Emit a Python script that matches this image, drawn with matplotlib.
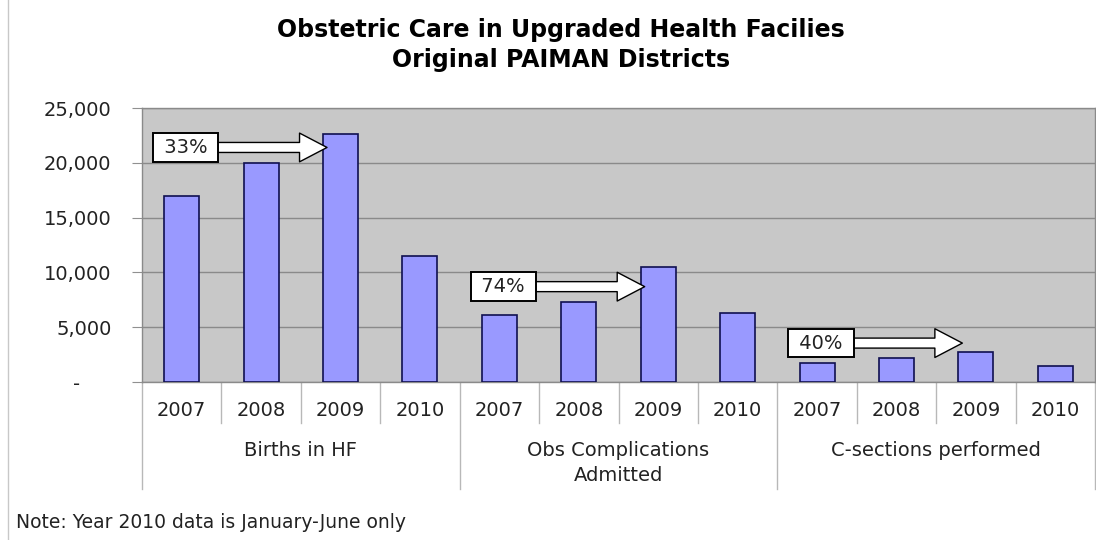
import numpy as np
import matplotlib.pyplot as plt
from matplotlib.lines import Line2D
from matplotlib.ticker import FuncFormatter

# Données
groups = ['Births in HF', 'Obs Complications\nAdmitted', 'C-sections performed']
years = ['2007', '2008', '2009', '2010']
births = [17000, 20000, 22600, 11500]
complications = [6100, 7300, 10500, 6300]
csections = [1700, 2150, 2780, 1450]

# Annotations : texte, barre de départ, barre d'arrivée, hauteur
arrow_labels = ['33%', '74%', '40%']
arrow_start = [0, 4, 8]
arrow_end = [2, 6, 10]
arrow_y = [21400, 8700, 3550]

values = births + complications + csections
labels = years * len(groups)
x = np.arange(len(values))

W, H = 1096, 540
fig = plt.figure(figsize=(W / 100, H / 100), dpi=100)
ax = fig.add_axes([142 / W, 1 - 382 / H, 953 / W, 274 / H])

font = 'DejaVu Sans'
fs = 14
ax.set_facecolor('#c8c8c8')
ax.bar(x, values, width=0.44, color='#9999ff', edgecolor='#101050', linewidth=1.2, zorder=3)

ax.set_xlim(-0.5, len(values) - 0.5)
ax.set_ylim(0, 25000)
ax.set_yticks(np.arange(0, 25001, 5000))
ax.yaxis.set_major_formatter(FuncFormatter(lambda v, p: '-     ' if v == 0 else f'{v:,.0f}'))
ax.grid(axis='y', color='#8a8a8a', linewidth=1, zorder=1)
ax.tick_params(axis='y', length=7, color='#909090', pad=15, labelsize=fs, labelcolor='#222222')
ax.set_xticks(x)
ax.set_xticklabels(labels, fontsize=fs, color='#222222')
ax.tick_params(axis='x', length=0, pad=14)
for lab in ax.get_xticklabels() + ax.get_yticklabels():
    lab.set_family(font)
for s in ax.spines.values():
    s.set_color('#8a8a8a')
    s.set_linewidth(1)

# Séparateurs de l'axe des catégories
tr = ax.get_xaxis_transform()
for k in range(len(values) + 1):
    xs = k - 0.5
    bottom = -0.39 if k % len(years) == 0 else -0.15
    ax.plot([xs, xs], [0, bottom], color='#b8b8b8', linewidth=1, transform=tr, clip_on=False)

for i, g in enumerate(groups):
    xc = i * len(years) + (len(years) - 1) / 2
    ax.text(xc, -0.215, g, transform=tr, ha='center', va='top', fontsize=fs,
            family=font, color='#222222', linespacing=1.4)

# Flèches blanches avec les pourcentages
for lab, i0, i1, yv in zip(arrow_labels, arrow_start, arrow_end, arrow_y):
    ax.annotate('', xy=(i1 - 0.17, yv), xytext=(i0 + 0.45, yv),
                arrowprops=dict(arrowstyle='simple,head_length=1.1,head_width=1.15,tail_width=0.4',
                                fc='white', ec='black', lw=1, mutation_scale=18, shrinkA=0, shrinkB=0),
                zorder=5)
    ax.text(i0 + 0.05, yv, ' ' + lab + ' ', ha='center', va='center', fontsize=fs, family=font,
            color='#222222', zorder=6,
            bbox=dict(boxstyle='square,pad=0.25', fc='white', ec='black', lw=1.4))

fig.text(0.512, 1 - 30 / H, 'Obstetric Care in Upgraded Health Facilies', ha='center', va='center',
         fontsize=17, fontweight='bold', family=font)
fig.text(0.512, 1 - 60 / H, 'Original PAIMAN Districts', ha='center', va='center',
         fontsize=17, fontweight='bold', family=font)
fig.text(16 / W, 1 - 523 / H, 'Note: Year 2010 data is January-June only', ha='left', va='center',
         fontsize=13.5, family=font, color='#222222')

fig.add_artist(Line2D([8 / W, 8 / W], [0, 1], color='#c8c8c8', linewidth=1))

fig.savefig('out.png', dpi=100)
